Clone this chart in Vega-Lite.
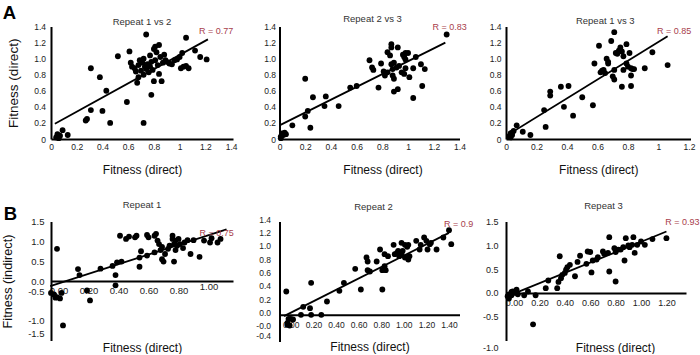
{
 "$schema": "https://vega.github.io/schema/vega-lite/v6.json",
 "padding": {"left": 1, "top": 3.5, "right": 0, "bottom": 0},
 "background": "white",
 "config": {
  "view": {"stroke": null},
  "font": "Liberation Sans",
  "axis": {"grid": false, "ticks": false, "tickSize": 0, "domainColor": "#000", "domainWidth": 2, "labelColor": "#222", "labelFont": "Liberation Sans", "titleFont": "Liberation Sans", "titleFontWeight": "normal", "titleColor": "#111", "labelFontSize": 8.5, "labelFlush": false, "labelOverlap": false, "tickCount": 20},
  "title": {"fontSize": 9.5, "fontWeight": "normal", "color": "#333", "font": "Liberation Sans", "frame": "group"}
 },
 "datasets": {
  "a1": [{"x":0.04,"y":0.02},{"x":0.06,"y":0.01},{"x":0.09,"y":0.11},{"x":0.13,"y":0.05},{"x":0.07,"y":0.04},{"x":0.05,"y":0.06},{"x":0.31,"y":0.88},{"x":0.38,"y":0.77},{"x":0.43,"y":0.6},{"x":0.31,"y":0.36},{"x":0.27,"y":0.23},{"x":0.28,"y":0.25},{"x":0.4,"y":0.35},{"x":0.46,"y":0.2},{"x":0.52,"y":1.03},{"x":0.61,"y":1.09},{"x":0.59,"y":0.46},{"x":0.72,"y":0.2},{"x":0.74,"y":1.3},{"x":0.78,"y":0.55},{"x":1.05,"y":1.26},{"x":1.12,"y":1.1},{"x":1.16,"y":1.02},{"x":1.21,"y":0.99},{"x":1.07,"y":0.88},{"x":1.01,"y":0.88},{"x":1.02,"y":1.07},{"x":0.62,"y":0.95},{"x":0.63,"y":0.9},{"x":0.65,"y":0.88},{"x":0.66,"y":0.84},{"x":0.67,"y":0.7},{"x":0.68,"y":0.92},{"x":0.69,"y":0.98},{"x":0.7,"y":0.85},{"x":0.71,"y":0.95},{"x":0.72,"y":1.0},{"x":0.72,"y":0.8},{"x":0.73,"y":0.9},{"x":0.74,"y":0.87},{"x":0.75,"y":0.93},{"x":0.76,"y":0.83},{"x":0.77,"y":1.04},{"x":0.77,"y":0.9},{"x":0.78,"y":0.96},{"x":0.79,"y":0.86},{"x":0.8,"y":0.72},{"x":0.8,"y":1.12},{"x":0.81,"y":0.98},{"x":0.82,"y":1.08},{"x":0.83,"y":0.92},{"x":0.84,"y":0.81},{"x":0.85,"y":1.02},{"x":0.86,"y":0.72},{"x":0.87,"y":0.95},{"x":0.88,"y":1.05},{"x":0.89,"y":0.98},{"x":0.9,"y":0.96},{"x":0.92,"y":0.94},{"x":0.94,"y":0.93},{"x":0.96,"y":0.98},{"x":0.98,"y":0.99},{"x":1.0,"y":1.02},{"x":1.03,"y":0.9},{"x":1.05,"y":0.91},{"x":0.81,"y":1.15},{"x":0.84,"y":1.17},{"x":0.68,"y":0.77}],
  "a2": [{"x":0.01,"y":0.03},{"x":0.02,"y":0.07},{"x":0.03,"y":0.05},{"x":0.04,"y":0.08},{"x":0.01,"y":0.01},{"x":0.05,"y":0.06},{"x":0.1,"y":0.17},{"x":0.2,"y":0.75},{"x":0.2,"y":0.28},{"x":0.22,"y":0.35},{"x":0.24,"y":0.14},{"x":0.26,"y":0.52},{"x":0.35,"y":0.41},{"x":0.36,"y":0.53},{"x":0.46,"y":0.41},{"x":0.55,"y":0.64},{"x":0.6,"y":0.66},{"x":0.7,"y":0.98},{"x":0.72,"y":0.89},{"x":0.73,"y":0.86},{"x":0.77,"y":0.64},{"x":0.79,"y":0.94},{"x":0.81,"y":0.84},{"x":0.82,"y":0.79},{"x":0.84,"y":0.83},{"x":0.84,"y":1.08},{"x":0.86,"y":1.04},{"x":0.87,"y":1.18},{"x":0.87,"y":1.14},{"x":0.87,"y":0.93},{"x":0.88,"y":0.87},{"x":0.89,"y":0.75},{"x":0.89,"y":0.59},{"x":0.88,"y":0.79},{"x":0.92,"y":1.14},{"x":0.92,"y":0.62},{"x":0.93,"y":0.91},{"x":0.95,"y":0.83},{"x":0.96,"y":1.05},{"x":0.97,"y":1.02},{"x":0.98,"y":0.99},{"x":0.98,"y":1.07},{"x":1.0,"y":1.07},{"x":0.98,"y":0.88},{"x":1.01,"y":0.77},{"x":0.97,"y":0.81},{"x":1.04,"y":0.88},{"x":1.04,"y":0.51},{"x":1.06,"y":1.02},{"x":1.1,"y":0.93},{"x":1.13,"y":0.87},{"x":1.11,"y":0.66},{"x":1.3,"y":1.3},{"x":0.89,"y":0.95},{"x":0.91,"y":0.89}],
  "a3": [{"x":0.02,"y":0.03},{"x":0.03,"y":0.07},{"x":0.04,"y":0.05},{"x":0.05,"y":0.1},{"x":0.03,"y":0.02},{"x":0.04,"y":0.08},{"x":0.07,"y":0.17},{"x":0.11,"y":0.09},{"x":0.16,"y":0.05},{"x":0.25,"y":0.36},{"x":0.26,"y":0.15},{"x":0.29,"y":0.59},{"x":0.29,"y":0.54},{"x":0.36,"y":0.65},{"x":0.38,"y":0.4},{"x":0.41,"y":0.66},{"x":0.44,"y":0.29},{"x":0.5,"y":0.52},{"x":0.57,"y":0.42},{"x":0.58,"y":0.94},{"x":0.61,"y":1.16},{"x":0.62,"y":0.83},{"x":0.63,"y":0.85},{"x":0.64,"y":0.86},{"x":0.65,"y":0.82},{"x":0.66,"y":1.0},{"x":0.67,"y":0.96},{"x":0.67,"y":0.94},{"x":0.69,"y":1.22},{"x":0.7,"y":0.78},{"x":0.71,"y":0.74},{"x":0.71,"y":1.33},{"x":0.72,"y":1.07},{"x":0.73,"y":1.06},{"x":0.74,"y":1.1},{"x":0.71,"y":0.86},{"x":0.75,"y":1.14},{"x":0.76,"y":1.09},{"x":0.77,"y":1.03},{"x":0.77,"y":0.86},{"x":0.76,"y":0.65},{"x":0.79,"y":0.94},{"x":0.8,"y":0.9},{"x":0.79,"y":1.18},{"x":0.81,"y":1.07},{"x":0.82,"y":0.88},{"x":0.82,"y":0.79},{"x":0.82,"y":0.66},{"x":0.83,"y":0.87},{"x":0.84,"y":0.87},{"x":0.91,"y":0.88},{"x":0.96,"y":1.08},{"x":1.06,"y":0.92}],
  "b1": [{"x":-0.05,"y":-0.3},{"x":-0.03,"y":-0.34},{"x":-0.02,"y":-0.42},{"x":-0.01,"y":-0.41},{"x":0.01,"y":-0.44},{"x":0.02,"y":-0.3},{"x":-0.01,"y":0.81},{"x":0.03,"y":-1.12},{"x":0.13,"y":0.3},{"x":0.14,"y":0.15},{"x":0.19,"y":-0.24},{"x":0.21,"y":-0.49},{"x":0.28,"y":0.31},{"x":0.36,"y":0.38},{"x":0.38,"y":0.15},{"x":0.38,"y":-0.11},{"x":0.39,"y":0.47},{"x":0.42,"y":0.49},{"x":0.41,"y":1.14},{"x":0.45,"y":1.06},{"x":0.47,"y":1.12},{"x":0.51,"y":1.1},{"x":0.52,"y":1.14},{"x":0.54,"y":0.36},{"x":0.54,"y":0.59},{"x":0.55,"y":0.75},{"x":0.59,"y":1.16},{"x":0.6,"y":1.1},{"x":0.59,"y":0.64},{"x":0.64,"y":1.14},{"x":0.65,"y":1.19},{"x":0.64,"y":0.72},{"x":0.66,"y":1.02},{"x":0.67,"y":0.93},{"x":0.69,"y":0.55},{"x":0.7,"y":0.49},{"x":0.71,"y":0.68},{"x":0.68,"y":0.78},{"x":0.69,"y":0.86},{"x":0.73,"y":0.81},{"x":0.74,"y":0.89},{"x":0.76,"y":1.14},{"x":0.76,"y":1.06},{"x":0.77,"y":0.93},{"x":0.78,"y":0.78},{"x":0.77,"y":0.49},{"x":0.78,"y":1.02},{"x":0.79,"y":0.89},{"x":0.8,"y":1.06},{"x":0.81,"y":0.93},{"x":0.83,"y":0.83},{"x":0.84,"y":0.97},{"x":0.86,"y":1.03},{"x":0.88,"y":0.68},{"x":0.9,"y":1.03},{"x":0.94,"y":0.61},{"x":0.97,"y":1.02},{"x":1.01,"y":0.97},{"x":1.02,"y":1.08},{"x":1.06,"y":0.97},{"x":1.08,"y":1.06}],
  "b2": [{"x":-0.04,"y":0.35},{"x":-0.03,"y":-0.15},{"x":-0.01,"y":-0.16},{"x":-0.03,"y":-0.12},{"x":-0.02,"y":-0.06},{"x":0.0,"y":-0.06},{"x":0.02,"y":-0.07},{"x":0.11,"y":0.12},{"x":0.09,"y":0.0},{"x":0.18,"y":0.0},{"x":0.17,"y":0.1},{"x":0.18,"y":0.48},{"x":0.27,"y":0.0},{"x":0.32,"y":0.2},{"x":0.43,"y":0.36},{"x":0.47,"y":0.48},{"x":0.57,"y":0.69},{"x":0.62,"y":0.38},{"x":0.67,"y":0.86},{"x":0.68,"y":0.8},{"x":0.68,"y":0.67},{"x":0.7,"y":0.65},{"x":0.76,"y":0.8},{"x":0.79,"y":0.98},{"x":0.81,"y":0.38},{"x":0.83,"y":0.73},{"x":0.84,"y":0.67},{"x":0.81,"y":0.67},{"x":0.83,"y":0.91},{"x":0.86,"y":0.88},{"x":0.91,"y":1.05},{"x":0.92,"y":0.91},{"x":0.94,"y":0.93},{"x":0.95,"y":0.96},{"x":0.96,"y":0.88},{"x":0.98,"y":0.92},{"x":0.99,"y":0.96},{"x":0.98,"y":1.08},{"x":1.01,"y":1.05},{"x":1.03,"y":1.02},{"x":1.04,"y":1.05},{"x":1.01,"y":0.86},{"x":1.04,"y":0.83},{"x":1.05,"y":0.88},{"x":1.11,"y":1.11},{"x":1.14,"y":0.98},{"x":1.15,"y":1.05},{"x":1.18,"y":1.16},{"x":1.2,"y":1.11},{"x":1.21,"y":0.98},{"x":1.23,"y":1.06},{"x":1.24,"y":1.08},{"x":1.29,"y":0.98},{"x":1.35,"y":1.16},{"x":1.4,"y":1.27},{"x":1.42,"y":1.06}],
  "b3": [{"x":-0.05,"y":-0.07},{"x":-0.04,"y":-0.03},{"x":-0.02,"y":-0.05},{"x":-0.01,"y":0.03},{"x":0.0,"y":0.0},{"x":0.02,"y":0.07},{"x":-0.04,"y":-0.12},{"x":-0.02,"y":0.02},{"x":0.03,"y":-0.03},{"x":0.08,"y":-0.05},{"x":0.11,"y":0.03},{"x":0.17,"y":-0.05},{"x":0.15,"y":-0.66},{"x":0.25,"y":0.1},{"x":0.27,"y":0.26},{"x":0.34,"y":0.1},{"x":0.35,"y":0.23},{"x":0.36,"y":0.77},{"x":0.37,"y":0.31},{"x":0.38,"y":0.38},{"x":0.4,"y":0.42},{"x":0.41,"y":0.49},{"x":0.42,"y":0.54},{"x":0.44,"y":0.59},{"x":0.48,"y":0.35},{"x":0.5,"y":0.65},{"x":0.52,"y":0.78},{"x":0.57,"y":0.61},{"x":0.58,"y":0.87},{"x":0.6,"y":0.86},{"x":0.61,"y":0.43},{"x":0.62,"y":0.68},{"x":0.65,"y":0.7},{"x":0.66,"y":0.75},{"x":0.7,"y":0.87},{"x":0.71,"y":0.82},{"x":0.74,"y":0.84},{"x":0.75,"y":1.17},{"x":0.75,"y":0.45},{"x":0.79,"y":0.94},{"x":0.8,"y":0.86},{"x":0.82,"y":0.91},{"x":0.8,"y":0.24},{"x":0.84,"y":0.91},{"x":0.86,"y":0.96},{"x":0.87,"y":0.68},{"x":0.88,"y":1.15},{"x":0.9,"y":1.0},{"x":0.91,"y":0.96},{"x":0.93,"y":1.01},{"x":0.94,"y":1.17},{"x":0.95,"y":0.84},{"x":0.97,"y":1.01},{"x":1.0,"y":1.08},{"x":1.03,"y":1.01},{"x":1.09,"y":1.13},{"x":1.2,"y":1.15}],
  "lines": [{"panel":"A1","x":0.03,"y":0.19},{"panel":"A1","x":1.22,"y":1.24},{"panel":"A2","x":0.0,"y":0.17},{"panel":"A2","x":1.29,"y":1.2},{"panel":"A3","x":0.01,"y":0.05},{"panel":"A3","x":1.06,"y":1.28},{"panel":"B1","x":-0.055,"y":-0.13},{"panel":"B1","x":1.12,"y":1.3},{"panel":"B2","x":-0.06,"y":-0.02},{"panel":"B2","x":1.4,"y":1.23},{"panel":"B3","x":-0.05,"y":-0.07},{"panel":"B3","x":1.2,"y":1.29}],
  "labels": [{"panel":"A1","x":1.15,"y":1.35,"label":"R = 0.77"},{"panel":"A2","x":1.19,"y":1.39,"label":"R = 0.83"},{"panel":"A3","x":0.99,"y":1.34,"label":"R = 0.85"},{"panel":"B1","x":0.94,"y":1.2,"label":"R = 0.75"},{"panel":"B2","x":1.356,"y":1.37,"label":"R = 0.9"},{"panel":"B3","x":1.19,"y":1.48,"label":"R = 0.93"}],
  "letters": [{"panel":"A1","x":-0.3756,"y":1.49,"letter":"A"},{"panel":"B1","x":-0.365,"y":1.55,"letter":"B"}]
 },
 "columns": 3,
 "bounds": "flush",
 "align": "each",
 "spacing": {"row": 82, "column": 46.5},
 "concat": [
  {
   "width": 182, "height": 112.5,
   "title": {"text": "Repeat 1 vs 2", "offset": 1, "dy": 23},
   "layer": [
    {"data": {"name": "a1"}, "mark": {"type": "circle", "size": 34, "color": "#000", "opacity": 1},
     "encoding": {
      "x": {"field": "x", "type": "quantitative", "scale": {"domain": [0, 1.415], "nice": false, "zero": false},
            "axis": {"values": [0,0.2,0.4,0.6,0.8,1,1.2,1.4], "tickCount": 20, "labelExpr": "format(datum.value, '~g')", "labelOverlap": false, "title": "Fitness (direct)", "titleFontSize": 12, "titlePadding": 13, "labelPadding": 3.5}},
      "y": {"field": "y", "type": "quantitative", "scale": {"domain": [0, 1.4], "nice": false, "zero": false},
            "axis": {"values": [0,0.2,0.4,0.6,0.8,1,1.2,1.4], "tickCount": 20, "labelExpr": "datum.value == 0 ? '0' : format(datum.value, '.1f')", "labelOverlap": false, "title": "Fitness (direct)", "titleFontSize": 13.5, "titlePadding": 13, "labelPadding": 5.5}}
     }},
    {"data": {"name": "lines"}, "transform": [{"filter": "datum.panel == 'A1'"}], "mark": {"type": "line", "color": "#000", "strokeWidth": 1.8},
     "encoding": {"x": {"field": "x", "type": "quantitative"}, "y": {"field": "y", "type": "quantitative"}}},
    {"data": {"name": "labels"}, "transform": [{"filter": "datum.panel == 'A1'"}], "mark": {"type": "text", "align": "left", "baseline": "middle", "fontSize": 9, "color": "#a8404c"},
     "encoding": {"x": {"field": "x", "type": "quantitative"}, "y": {"field": "y", "type": "quantitative"}, "text": {"field": "label"}}},
    {"data": {"name": "letters"}, "transform": [{"filter": "datum.panel == 'A1'"}], "mark": {"type": "text", "align": "left", "baseline": "alphabetic", "fontSize": 18.5, "fontWeight": "bold", "color": "#000"},
     "encoding": {"x": {"field": "x", "type": "quantitative"}, "y": {"field": "y", "type": "quantitative"}, "text": {"field": "letter"}}}
   ]
  },
  {
   "width": 180, "height": 112.5,
   "title": {"text": "Repeat 2 vs 3", "offset": 1, "dx": 3, "dy": 2},
   "layer": [
    {"data": {"name": "a2"}, "mark": {"type": "circle", "size": 34, "color": "#000", "opacity": 1},
     "encoding": {
      "x": {"field": "x", "type": "quantitative", "scale": {"domain": [0, 1.4], "nice": false, "zero": false},
            "axis": {"values": [0,0.2,0.4,0.6,0.8,1,1.2,1.4], "tickCount": 20, "labelExpr": "format(datum.value, '~g')", "labelOverlap": false, "title": "Fitness (direct)", "titleFontSize": 12, "titlePadding": 13, "labelPadding": 3.5, "titleX": 103}},
      "y": {"field": "y", "type": "quantitative", "scale": {"domain": [0, 1.4], "nice": false, "zero": false},
            "axis": {"values": [0,0.2,0.4,0.6,0.8,1,1.2,1.4], "tickCount": 20, "labelExpr": "datum.value == 0 ? '0' : format(datum.value, '.1f')", "labelOverlap": false, "title": null, "labelPadding": 4}}
     }},
    {"data": {"name": "lines"}, "transform": [{"filter": "datum.panel == 'A2'"}], "mark": {"type": "line", "color": "#000", "strokeWidth": 1.8},
     "encoding": {"x": {"field": "x", "type": "quantitative"}, "y": {"field": "y", "type": "quantitative"}}},
    {"data": {"name": "labels"}, "transform": [{"filter": "datum.panel == 'A2'"}], "mark": {"type": "text", "align": "left", "baseline": "middle", "fontSize": 9, "color": "#a8404c"},
     "encoding": {"x": {"field": "x", "type": "quantitative"}, "y": {"field": "y", "type": "quantitative"}, "text": {"field": "label"}}}
   ]
  },
  {
   "width": 184.5, "height": 112.5,
   "title": {"text": "Repeat 1 vs 3", "offset": 1, "dx": 7, "dy": 4.4},
   "layer": [
    {"data": {"name": "a3"}, "mark": {"type": "circle", "size": 34, "color": "#000", "opacity": 1},
     "encoding": {
      "x": {"field": "x", "type": "quantitative", "scale": {"domain": [0, 1.21], "nice": false, "zero": false},
            "axis": {"values": [0,0.2,0.4,0.6,0.8,1,1.2], "tickCount": 20, "labelExpr": "format(datum.value, '~g')", "labelOverlap": false, "title": "Fitness (direct)", "titleFontSize": 12, "titlePadding": 13, "labelPadding": 3.5}},
      "y": {"field": "y", "type": "quantitative", "scale": {"domain": [0, 1.4], "nice": false, "zero": false},
            "axis": {"values": [0,0.2,0.4,0.6,0.8,1,1.2,1.4], "tickCount": 20, "labelExpr": "datum.value == 0 ? '0' : format(datum.value, '.1f')", "labelOverlap": false, "title": null, "labelPadding": 5}}
     }},
    {"data": {"name": "lines"}, "transform": [{"filter": "datum.panel == 'A3'"}], "mark": {"type": "line", "color": "#000", "strokeWidth": 1.8},
     "encoding": {"x": {"field": "x", "type": "quantitative"}, "y": {"field": "y", "type": "quantitative"}}},
    {"data": {"name": "labels"}, "transform": [{"filter": "datum.panel == 'A3'"}], "mark": {"type": "text", "align": "left", "baseline": "middle", "fontSize": 9, "color": "#a8404c"},
     "encoding": {"x": {"field": "x", "type": "quantitative"}, "y": {"field": "y", "type": "quantitative"}, "text": {"field": "label"}}}
   ]
  },
  {
   "width": 182, "height": 119,
   "title": {"text": "Repeat 1", "offset": 7.5, "dy": 12.9},
   "layer": [
    {"data": {"name": "b1"}, "mark": {"type": "circle", "size": 34, "color": "#000", "opacity": 1},
     "encoding": {
      "x": {"field": "x", "type": "quantitative", "scale": {"domain": [-0.05, 1.163], "nice": false, "zero": false},
            "axis": {"values": [0,0.2,0.4,0.6,0.8,1], "tickCount": 20, "format": ".2f", "labelOverlap": false, "offset": -59.5, "title": "Fitness (direct)", "titleFontSize": 12, "titleY": 66, "titleBaseline": "middle", "labelFontSize": 9.5,
                     "labelPadding": {"condition": {"test": "datum.value == 1", "value": 0}, "value": 4.5}}},
      "y": {"field": "y", "type": "quantitative", "scale": {"domain": [-1.5, 1.5], "nice": false, "zero": false},
            "axis": {"values": [-1.5,-1,-0.5,0,0.5,1,1.5], "tickCount": 20, "labelExpr": "(datum.value < 0 ? '-' : '') + format(abs(datum.value), '.1f')", "labelOverlap": false, "title": "Fitness (indirect)", "titleFontSize": 12.7, "titlePadding": 12.8, "labelFontSize": 9.5, "labelPadding": 7,
                     "labelOffset": {"condition": [{"test": "datum.value == -0.5", "value": -9.5}, {"test": "datum.value == -1.5", "value": -7.5}], "value": 0}}}
     }},
    {"data": {"name": "lines"}, "transform": [{"filter": "datum.panel == 'B1'"}], "mark": {"type": "line", "color": "#000", "strokeWidth": 1.8},
     "encoding": {"x": {"field": "x", "type": "quantitative"}, "y": {"field": "y", "type": "quantitative"}}},
    {"data": {"name": "labels"}, "transform": [{"filter": "datum.panel == 'B1'"}], "mark": {"type": "text", "align": "left", "baseline": "middle", "fontSize": 9, "color": "#a8404c"},
     "encoding": {"x": {"field": "x", "type": "quantitative"}, "y": {"field": "y", "type": "quantitative"}, "text": {"field": "label"}}},
    {"data": {"name": "letters"}, "transform": [{"filter": "datum.panel == 'B1'"}], "mark": {"type": "text", "align": "left", "baseline": "alphabetic", "fontSize": 18.5, "fontWeight": "bold", "color": "#000"},
     "encoding": {"x": {"field": "x", "type": "quantitative"}, "y": {"field": "y", "type": "quantitative"}, "text": {"field": "letter"}}}
   ]
  },
  {
   "width": 180, "height": 120,
   "title": {"text": "Repeat 2", "offset": 5, "dx": 4, "dy": 1.7},
   "layer": [
    {"data": {"name": "b2"}, "mark": {"type": "circle", "size": 34, "color": "#000", "opacity": 1},
     "encoding": {
      "x": {"field": "x", "type": "quantitative", "scale": {"domain": [-0.1, 1.493], "nice": false, "zero": false},
            "axis": {"values": [0,0.2,0.4,0.6,0.8,1,1.2,1.4], "tickCount": 20, "format": ".2f", "labelOverlap": false, "offset": -26.7, "title": "Fitness (direct)", "titleFontSize": 12, "titleY": 31.4, "titleBaseline": "middle", "labelFontSize": 8.5, "labelPadding": 6}},
      "y": {"field": "y", "type": "quantitative", "scale": {"domain": [-0.4, 1.4], "nice": false, "zero": false},
            "axis": {"values": [-0.4,-0.2,0,0.2,0.4,0.6,0.8,1,1.2,1.4], "tickCount": 20, "labelExpr": "datum.value == -0.2 ? '-0.0' : (datum.value < 0 ? '-' : '') + format(abs(datum.value), '.1f')", "labelOverlap": false, "title": null, "labelFontSize": 8.5, "labelPadding": 9,
                     "labelOffset": {"condition": {"test": "datum.value == -0.4", "value": -6}, "value": -2.5}}}
     }},
    {"data": {"name": "lines"}, "transform": [{"filter": "datum.panel == 'B2'"}], "mark": {"type": "line", "color": "#000", "strokeWidth": 1.8},
     "encoding": {"x": {"field": "x", "type": "quantitative"}, "y": {"field": "y", "type": "quantitative"}}},
    {"data": {"name": "labels"}, "transform": [{"filter": "datum.panel == 'B2'"}], "mark": {"type": "text", "align": "left", "baseline": "middle", "fontSize": 9, "color": "#a8404c"},
     "encoding": {"x": {"field": "x", "type": "quantitative"}, "y": {"field": "y", "type": "quantitative"}, "text": {"field": "label"}}}
   ]
  },
  {
   "width": 180, "height": 119,
   "title": {"text": "Repeat 3", "offset": 7.5, "dx": 7.5, "dy": 0.4},
   "layer": [
    {"data": {"name": "b3"}, "mark": {"type": "circle", "size": 34, "color": "#000", "opacity": 1},
     "encoding": {
      "x": {"field": "x", "type": "quantitative", "scale": {"domain": [-0.063, 1.354], "nice": false, "zero": false},
            "axis": {"values": [0,0.2,0.4,0.6,0.8,1,1.2], "tickCount": 20, "format": ".2f", "labelOverlap": false, "offset": -47.6, "title": "Fitness (direct)", "titleFontSize": 12, "titleY": 54.3, "titleX": 109, "titleBaseline": "middle", "labelFontSize": 9, "labelPadding": 6}},
      "y": {"field": "y", "type": "quantitative", "scale": {"domain": [-1, 1.5], "nice": false, "zero": false},
            "axis": {"values": [-1,-0.5,0,0.5,1,1.5], "tickCount": 20, "labelExpr": "(datum.value < 0 ? '-' : '') + format(abs(datum.value), '.1f')", "labelOverlap": false, "title": null, "labelFontSize": 9, "labelPadding": 8,
                     "labelOffset": {"condition": {"test": "datum.value == -1", "value": 7}, "value": 0}}}
     }},
    {"data": {"name": "lines"}, "transform": [{"filter": "datum.panel == 'B3'"}], "mark": {"type": "line", "color": "#000", "strokeWidth": 1.8},
     "encoding": {"x": {"field": "x", "type": "quantitative"}, "y": {"field": "y", "type": "quantitative"}}},
    {"data": {"name": "labels"}, "transform": [{"filter": "datum.panel == 'B3'"}], "mark": {"type": "text", "align": "left", "baseline": "middle", "fontSize": 9, "color": "#a8404c"},
     "encoding": {"x": {"field": "x", "type": "quantitative"}, "y": {"field": "y", "type": "quantitative"}, "text": {"field": "label"}}}
   ]
  }
 ]
}
